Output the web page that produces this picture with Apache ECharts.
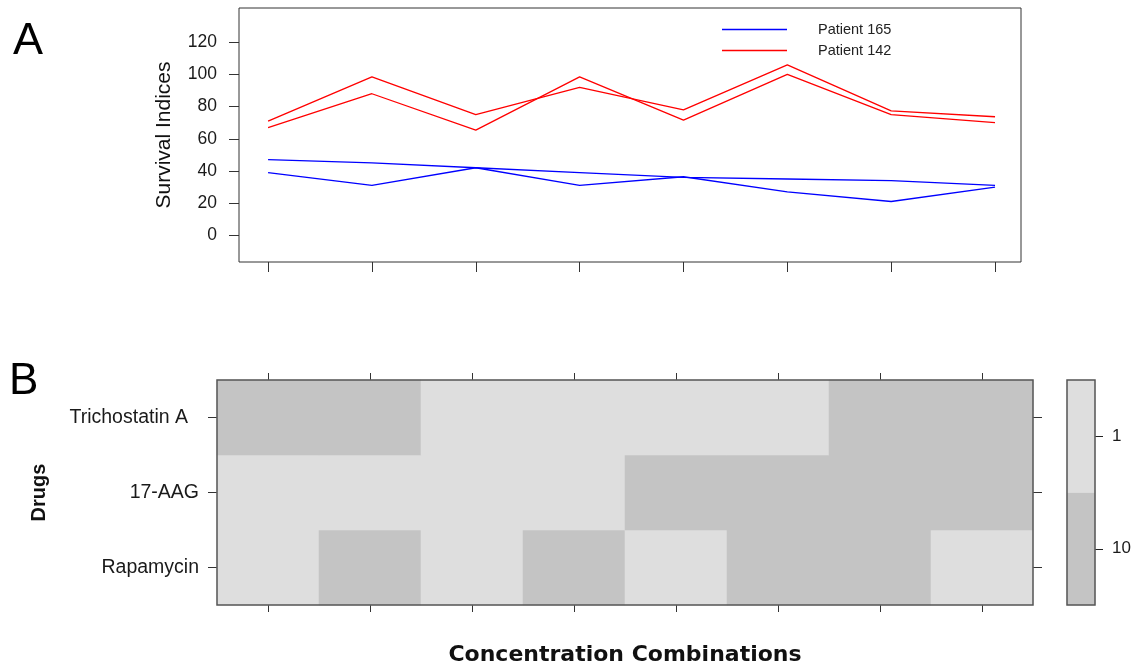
<!DOCTYPE html>
<html>
<head>
<meta charset="utf-8">
<script src="https://cdn.jsdelivr.net/npm/echarts@6/dist/echarts.min.js"></script>
<style>html,body{margin:0;padding:0;background:#fff}#c{width:1139px;height:666px}</style>
</head>
<body>
<div id="c"></div>
<script>
// ---- data ----
var combos = [1, 2, 3, 4, 5, 6, 7, 8];
var yTicks = [0, 20, 40, 60, 80, 100, 120];
var p165a = [47, 45, 42, 39, 36, 35, 34, 31];
var p165b = [39, 31, 42, 31, 36.4, 27, 21, 30];
var p142a = [71, 98.5, 75, 92, 78, 106, 77.4, 73.7];
var p142b = [67, 88, 65.4, 98.5, 71.6, 100, 75, 70];

var comboCats = ['1', '2', '3', '4', '5', '6', '7', '8'];
var drugs = ['Rapamycin', '17-AAG', 'Trichostatin A'];
var rapamycin = [1, 10, 1, 10, 1, 10, 10, 1];
var aag17 = [1, 1, 1, 1, 10, 10, 10, 10];
var trichostatin = [10, 10, 1, 1, 1, 1, 10, 10];
var keyLevels = ['10', '1'];
var keyValues = [10, 1];

var LIGHT = '#dedede', DARK = '#c4c4c4';
var FONT = 'Liberation Sans, Arial, sans-serif';

function pts(arr) { return arr.map(function (v, i) { return [combos[i], v]; }); }
var heat = [];
[rapamycin, aag17, trichostatin].forEach(function (row, r) {
  row.forEach(function (v, c) { heat.push([c, r, v]); });
});
var keyData = keyValues.map(function (v, i) { return [0, i, v]; });

var lineStyleBlue = { color: '#0000ff', width: 1.3 };
var lineStyleRed = { color: '#ff0000', width: 1.3 };

var chart = echarts.init(document.getElementById('c'), null, { renderer: 'canvas' });
chart.setOption({
  animation: false,
  backgroundColor: '#ffffff',
  textStyle: { fontFamily: FONT },
  grid: [
    { left: 239, top: 8, width: 782, height: 254, show: true, borderColor: '#333', borderWidth: 1, z: 10, outerBoundsMode: 'none', containLabel: false },
    { left: 217, top: 380, width: 816, height: 225, show: true, borderColor: '#555', borderWidth: 1.5, z: 10, outerBoundsMode: 'none', containLabel: false },
    { left: 1067, top: 380, width: 28, height: 225, show: true, borderColor: '#555', borderWidth: 1.5, z: 10, outerBoundsMode: 'none', containLabel: false }
  ],
  legend: {
    orient: 'vertical', left: 722, top: 21, padding: 0,
    itemWidth: 65, itemHeight: 1.5, itemGap: 4, icon: 'rect',
    data: ['Patient 165', 'Patient 142'],
    textStyle: { fontFamily: FONT, fontSize: 14.5, lineHeight: 17, color: '#222', padding: [0, 0, 0, 26] }
  },
  xAxis: [
    { gridIndex: 0, type: 'value', min: 0.72, max: 8.25, position: 'bottom',
      axisLine: { show: false, onZero: false }, splitLine: { show: false },
      axisTick: { show: true, length: 10, customValues: combos, lineStyle: { color: '#333' } },
      axisLabel: { show: false } },
    { gridIndex: 1, type: 'category', data: comboCats, position: 'bottom',
      axisLine: { show: false, onZero: false }, splitLine: { show: false },
      axisTick: { show: true, alignWithLabel: true, length: 7, lineStyle: { color: '#333' } },
      axisLabel: { show: false },
      name: 'Concentration Combinations', nameLocation: 'middle', nameGap: 39,
      nameTextStyle: { fontFamily: 'DejaVu Sans', fontWeight: 'bold', fontSize: 22, color: '#111' } },
    { gridIndex: 1, type: 'category', data: comboCats, position: 'top',
      axisLine: { show: false, onZero: false }, splitLine: { show: false },
      axisTick: { show: true, alignWithLabel: true, length: 7, lineStyle: { color: '#333' } },
      axisLabel: { show: false } },
    { gridIndex: 2, type: 'category', data: ['k'], show: false }
  ],
  yAxis: [
    { gridIndex: 0, type: 'value', min: -16.6, max: 141.3,
      axisLine: { show: false, onZero: false }, splitLine: { show: false },
      axisTick: { show: true, length: 10, customValues: yTicks, lineStyle: { color: '#333' } },
      axisLabel: { show: true, customValues: yTicks, margin: 22, fontSize: 17.5, color: '#1a1a1a', fontFamily: FONT },
      name: 'Survival Indices', nameLocation: 'middle', nameGap: 64, nameRotate: 90,
      nameTextStyle: { fontFamily: FONT, fontSize: 21, color: '#111' } },
    { gridIndex: 1, type: 'category', data: drugs, position: 'left',
      axisLine: { show: false, onZero: false }, splitLine: { show: false },
      axisTick: { show: true, alignWithLabel: true, length: 9, lineStyle: { color: '#333' } },
      axisLabel: { show: true, margin: 18, fontSize: 19.5, color: '#1a1a1a', fontFamily: FONT,
        formatter: function (v) { return v === 'Trichostatin A' ? '{t|' + v + '}' : v; },
        rich: { t: { fontSize: 19.5, color: '#1a1a1a', fontFamily: FONT, padding: [0, 11, 0, 0] } } },
      name: 'Drugs', nameLocation: 'middle', nameGap: 168, nameRotate: 90,
      nameTextStyle: { fontFamily: FONT, fontWeight: 'bold', fontSize: 20, color: '#111' } },
    { gridIndex: 1, type: 'category', data: drugs, position: 'right',
      axisLine: { show: false, onZero: false }, splitLine: { show: false },
      axisTick: { show: true, alignWithLabel: true, length: 9, lineStyle: { color: '#333' } },
      axisLabel: { show: false } },
    { gridIndex: 2, type: 'category', data: keyLevels, position: 'right',
      axisLine: { show: false, onZero: false }, splitLine: { show: false },
      axisTick: { show: true, alignWithLabel: true, length: 8, lineStyle: { color: '#222' } },
      axisLabel: { show: true, margin: 17, fontSize: 17, color: '#1a1a1a', fontFamily: FONT } }
  ],
  visualMap: {
    type: 'piecewise', show: false, seriesIndex: [4, 5], dimension: 2,
    pieces: [{ value: 1, color: LIGHT }, { value: 10, color: DARK }]
  },
  series: [
    { name: 'Patient 165', type: 'line', xAxisIndex: 0, yAxisIndex: 0, data: pts(p165a), symbol: 'none', lineStyle: lineStyleBlue, itemStyle: { color: '#0000ff' } },
    { name: 'Patient 165', type: 'line', xAxisIndex: 0, yAxisIndex: 0, data: pts(p165b), symbol: 'none', lineStyle: lineStyleBlue, itemStyle: { color: '#0000ff' } },
    { name: 'Patient 142', type: 'line', xAxisIndex: 0, yAxisIndex: 0, data: pts(p142a), symbol: 'none', lineStyle: lineStyleRed, itemStyle: { color: '#ff0000' } },
    { name: 'Patient 142', type: 'line', xAxisIndex: 0, yAxisIndex: 0, data: pts(p142b), symbol: 'none', lineStyle: lineStyleRed, itemStyle: { color: '#ff0000' } },
    { type: 'heatmap', xAxisIndex: 1, yAxisIndex: 1, data: heat, itemStyle: { borderWidth: 0 }, emphasis: { disabled: true } },
    { type: 'heatmap', xAxisIndex: 3, yAxisIndex: 3, data: keyData, itemStyle: { borderWidth: 0 }, emphasis: { disabled: true } }
  ],
  graphic: [
    { type: 'text', left: 13, top: 19, style: { text: 'A', font: '45px ' + FONT, fill: '#000' } },
    { type: 'text', left: 9, top: 360, style: { text: 'B', font: '44px ' + FONT, fill: '#000' } }
  ]
});
</script>
</body>
</html>
